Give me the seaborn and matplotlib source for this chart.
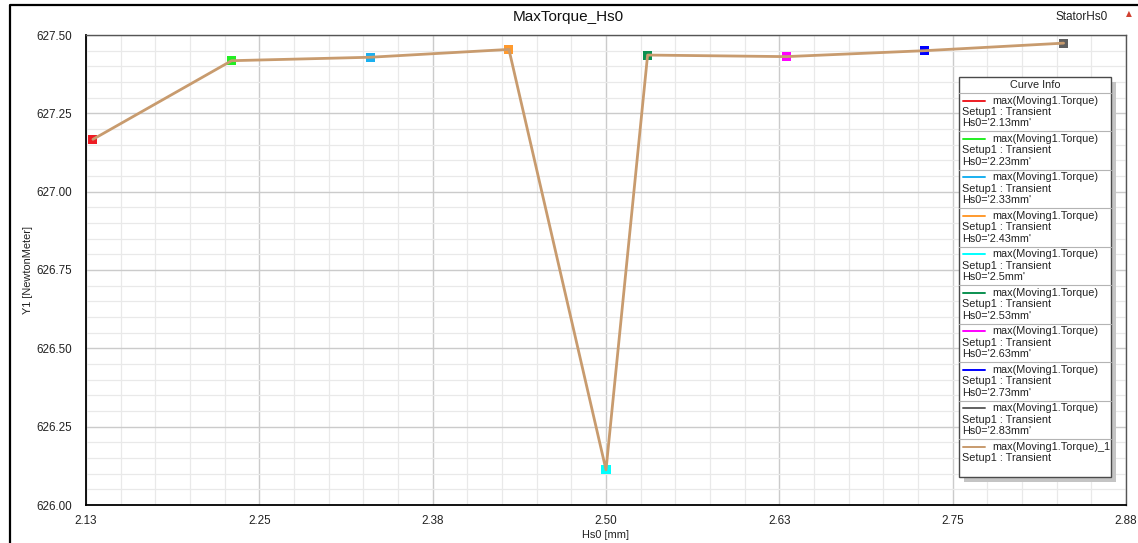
import matplotlib
matplotlib.use("Agg")
import matplotlib.pyplot as plt
import seaborn as sns
import pandas as pd
from matplotlib.patches import Rectangle
from matplotlib.lines import Line2D
from matplotlib.ticker import FixedLocator, MultipleLocator

# ---- data ----
hs0 = [2.13, 2.23, 2.33, 2.43, 2.50, 2.53, 2.63, 2.73, 2.83]
torque = [627.167, 627.418, 627.429, 627.454, 626.112, 627.436, 627.431, 627.450, 627.474]
hs0_labels = ["2.13mm", "2.23mm", "2.33mm", "2.43mm", "2.5mm", "2.53mm", "2.63mm", "2.73mm", "2.83mm"]
point_colors = ["#ee1c24", "#22ee22", "#1ab0f0", "#ff9a2e", "#00ffff", "#0a9050", "#ff00ff", "#0000ff", "#606060"]
line_color = "#c89b6e"
xticks = [2.125, 2.25, 2.375, 2.5, 2.625, 2.75, 2.875]
xtick_labels = ["2.13", "2.25", "2.38", "2.50", "2.63", "2.75", "2.88"]
yticks = [626.00, 626.25, 626.50, 626.75, 627.00, 627.25, 627.50]
ytick_labels = ["626.00", "626.25", "626.50", "626.75", "627.00", "627.25", "627.50"]
curve_name = "max(Moving1.Torque)"
setup_name = "Setup1 : Transient"

sns.set_style("white")
plt.rcParams['font.family'] = ['Liberation Sans', 'DejaVu Sans']

W, H = 1138, 543
fig = plt.figure(figsize=(W / 100, H / 100), dpi=100)

def fx(px):
    return px / W

def fy(py):
    return 1 - py / H

ax_l, ax_r, ax_t, ax_b = 86, 1126, 35, 505
ax = fig.add_axes([fx(ax_l), fy(ax_b), fx(ax_r - ax_l), (ax_b - ax_t) / H])

df = pd.DataFrame({"Hs0": hs0, "Torque": torque, "Curve": hs0_labels})

sns.scatterplot(data=df, x="Hs0", y="Torque", hue="Curve", palette=point_colors,
                marker="s", s=42, linewidth=0, legend=False, ax=ax, zorder=3)
sns.lineplot(data=df, x="Hs0", y="Torque", color=line_color, lw=2.0,
             estimator=None, sort=True, legend=False, ax=ax, zorder=4)

ax.set_xlim(xticks[0], xticks[-1])
ax.set_ylim(yticks[0], yticks[-1])
ax.xaxis.set_major_locator(FixedLocator(xticks))
ax.set_xticklabels(xtick_labels)
ax.xaxis.set_minor_locator(MultipleLocator(0.025))
ax.yaxis.set_major_locator(FixedLocator(yticks))
ax.set_yticklabels(ytick_labels)
ax.yaxis.set_minor_locator(MultipleLocator(0.05))

ax.set_axisbelow(True)
ax.grid(which="major", color="#cbcbcb", lw=1.0)
ax.grid(which="minor", color="#e9e9e9", lw=0.9)

ax.tick_params(which="major", direction="out", length=6.5, width=1.0, color="black",
               labelsize=8.4, labelcolor="#222222")
ax.tick_params(axis="y", which="major", pad=3.5)
ax.tick_params(axis="x", which="major", pad=0.5)
ax.tick_params(which="minor", direction="out", length=3, width=1.0, color="black")

for side in ["left", "bottom"]:
    ax.spines[side].set_color("black")
    ax.spines[side].set_linewidth(1.3)
for side in ["top", "right"]:
    ax.spines[side].set_color("#555555")
    ax.spines[side].set_linewidth(1.0)

ax.set_xlabel("Hs0 [mm]", fontsize=7.9, color="#222222")
ax.set_ylabel("Y1 [NewtonMeter]", fontsize=7.9, color="#222222")
ax.xaxis.set_label_coords(0.5, (ax_b - 535) / (ax_b - ax_t))
ax.xaxis.label.set_va("center")
ax.yaxis.set_label_coords((28 - ax_l) / (ax_r - ax_l), 0.5)
ax.yaxis.label.set_va("center")

# title and annotations
fig.text(fx(568), fy(17), "MaxTorque_Hs0", ha="center", va="center", fontsize=11, color="#111111")
fig.text(fx(1082), fy(17.5), "StatorHs0", ha="center", va="center", fontsize=8.5, color="#222222")
fig.text(fx(1129), fy(14), "\u25b2", ha="center", va="center", fontsize=5.5, color="#d04030",
         family=["DejaVu Sans"])

# outer frame
fig.add_artist(Line2D([fx(9.5), fx(9.5), fx(W)], [0, fy(5), fy(5)], color="black", lw=1.6,
                      transform=fig.transFigure))

# ---- Curve Info legend ----
lx0, lx1, ly0, ly1 = 959, 1111, 77, 477
fig.add_artist(Rectangle((fx(lx0 + 5), fy(ly1 + 5)), fx(lx1 - lx0), (ly1 - ly0) / H,
                         transform=fig.transFigure, facecolor="#c4c4c4", edgecolor="none", zorder=5))
fig.add_artist(Rectangle((fx(lx0), fy(ly1)), fx(lx1 - lx0), (ly1 - ly0) / H,
                         transform=fig.transFigure, facecolor="white", edgecolor="#4a4a4a",
                         lw=1.0, zorder=6))
fig.text(fx((lx0 + lx1) / 2), fy(85), "Curve Info", ha="center", va="center",
         fontsize=7.8, color="#222222", zorder=7)

entry_h = 38.45
entries = [(c, f"Hs0='{lab}'") for c, lab in zip(point_colors, hs0_labels)]
entries.append((line_color, None))
for k, (col, hs_text) in enumerate(entries):
    sep = 93 + entry_h * k
    fig.add_artist(Line2D([fx(lx0), fx(lx1)], [fy(sep), fy(sep)], color="#b4b4b4", lw=0.8,
                          transform=fig.transFigure, zorder=7))
    fig.add_artist(Line2D([fx(963), fx(985)], [fy(sep + 7.5), fy(sep + 7.5)], color=col, lw=1.4,
                          transform=fig.transFigure, zorder=7))
    name = curve_name if hs_text is not None else curve_name + "_1"
    fig.text(fx(992.5), fy(sep + 7.5), name, ha="left", va="center", fontsize=7.85,
             color="#222222", zorder=7)
    fig.text(fx(962), fy(sep + 19), setup_name, ha="left", va="center", fontsize=7.85,
             color="#222222", zorder=7)
    if hs_text is not None:
        fig.text(fx(962), fy(sep + 30.5), hs_text, ha="left", va="center", fontsize=7.85,
                 color="#222222", zorder=7)

fig.savefig("out.png", dpi=100)
